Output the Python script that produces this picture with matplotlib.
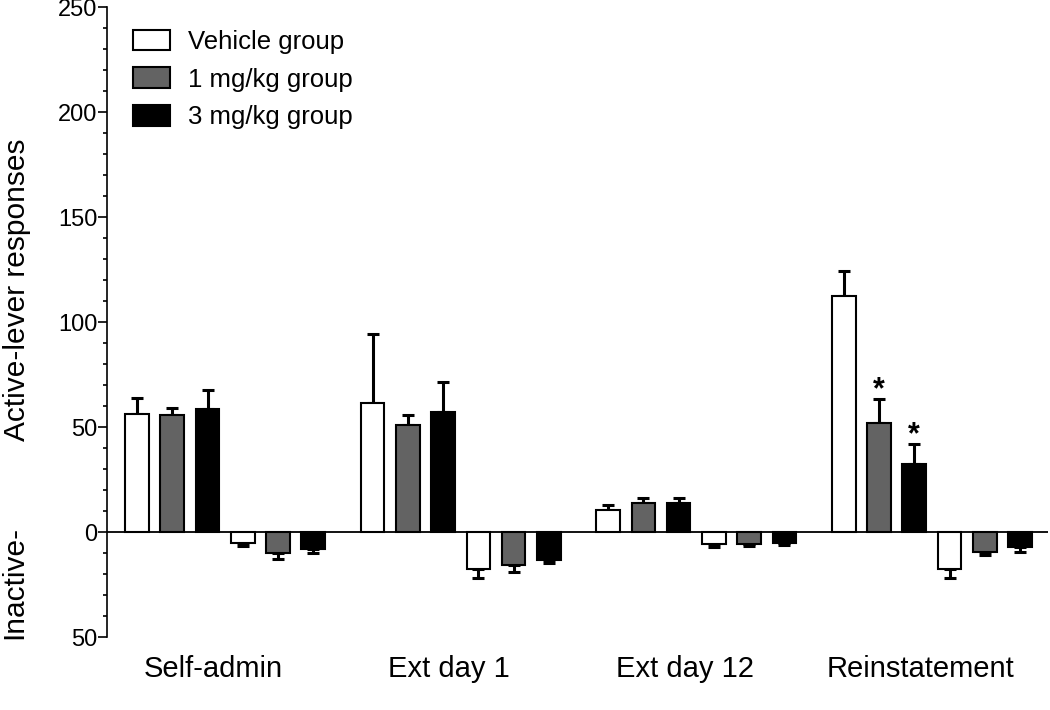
import numpy as np
import matplotlib
matplotlib.use('Agg')
import matplotlib.pyplot as plt
from matplotlib.patches import Patch

plt.rcParams['font.family'] = ['Liberation Sans', 'DejaVu Sans']

phases = ['Self-admin', 'Ext day 1', 'Ext day 12', 'Reinstatement']
groups = ['Vehicle group', '1 mg/kg group', '3 mg/kg group']
colors = ['white', '#636363', 'black']

# active-lever responses (mean, sem), rows = phases, cols = groups
active_mean = np.array([[56.2, 55.9, 58.4],
                        [61.3, 51.0, 57.3],
                        [10.6, 14.0, 13.8],
                        [112.5, 52.0, 32.4]])
active_sem = np.array([[7.4, 3.1, 9.2],
                       [33.0, 4.7, 14.3],
                       [2.2, 2.3, 2.3],
                       [11.9, 11.2, 9.5]])
# inactive-lever responses (plotted downward)
inactive_mean = np.array([[5.4, 9.8, 8.1],
                          [17.5, 15.9, 13.3],
                          [5.7, 5.5, 5.4],
                          [17.8, 9.4, 7.0]])
inactive_sem = np.array([[1.3, 3.1, 1.7],
                         [4.4, 3.3, 1.6],
                         [1.6, 1.3, 0.9],
                         [4.3, 1.5, 2.7]])
# significant vs vehicle (phase index, group index)
signif = [(3, 1), (3, 2)]

group_step = 6.68
width = 0.67

fig = plt.figure(figsize=(10.5, 7.1), dpi=100)
ax = fig.add_axes([0.1019, 0.1028, 0.8961, 0.8872])

err_kw = dict(fmt='none', ecolor='black', elinewidth=2.2, capsize=4.3,
              capthick=2.2)

for p in range(len(phases)):
    for g in range(len(groups)):
        xa = p * group_step + g
        xi = p * group_step + 3 + g
        m, s = active_mean[p, g], active_sem[p, g]
        ax.bar(xa, m, width, color=colors[g], edgecolor='black',
               linewidth=1.5, zorder=2)
        ax.errorbar(xa, m, yerr=[[0], [s]], zorder=1, **err_kw)
        m, s = -inactive_mean[p, g], inactive_sem[p, g]
        ax.bar(xi, m, width, color=colors[g], edgecolor='black',
               linewidth=1.5, zorder=2)
        ax.errorbar(xi, m, yerr=[[s], [0]], zorder=1, **err_kw)

for p, g in signif:
    x = p * group_step + g
    ax.text(x, active_mean[p, g] + active_sem[p, g] + 4.3, '*',
            ha='center', va='center', fontsize=22, fontweight='bold')

ax.axhline(0, color='black', lw=1.3, zorder=3)

ax.set_xlim(-0.85, 3 * group_step + 5 + 0.79)
ax.set_ylim(-50, 250)
ax.set_yticks(np.arange(-50, 251, 50))
ax.set_yticklabels([str(abs(v)) for v in range(-50, 251, 50)])
ax.set_yticks(np.arange(-50, 251, 10), minor=True)
ax.tick_params(axis='y', which='major', length=6.5, width=1.2,
               labelsize=17, pad=0.5)
ax.tick_params(axis='y', which='minor', length=3, width=1.2)

ax.set_xticks([p * group_step + 2.5 - 0.33 for p in range(len(phases))])
ax.set_xticklabels(phases, fontsize=21)
ax.tick_params(axis='x', length=0, pad=13)

for side in ['top', 'right', 'bottom']:
    ax.spines[side].set_visible(False)
ax.spines['left'].set_linewidth(1.2)

fig.text(17 / 1050, 1 - 290 / 710, 'Active-lever responses', rotation=90,
         ha='center', va='center', fontsize=21.5)
fig.text(14 / 1050, 1 - 582 / 710, 'Inactive-', rotation=90,
         ha='center', va='center', fontsize=21.5)

handles = [Patch(facecolor=c, edgecolor='black', linewidth=1.5)
           for c in colors]
ax.legend(handles, groups, loc='upper left', bbox_to_anchor=(0.0276, 0.964),
          frameon=False, fontsize=18.5, handlelength=1.44, handleheight=0.86,
          handletextpad=0.7, labelspacing=0.52, borderaxespad=0, borderpad=0)

fig.savefig('out.png', dpi=100)
